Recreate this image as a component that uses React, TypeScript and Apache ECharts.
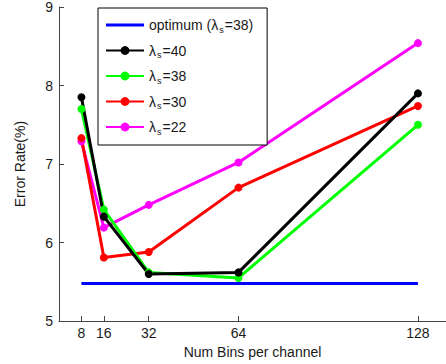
import React, { useEffect, useRef } from "react";
import * as echarts from "echarts";

const bins = [8, 16, 32, 64, 128];
const optimumBins = [8, 128];
const optimumErr = [5.48, 5.48];
const err40 = [7.85, 6.33, 5.6, 5.62, 7.9];
const err38 = [7.7, 6.42, 5.62, 5.55, 7.5];
const err30 = [7.33, 5.81, 5.88, 6.7, 7.74];
const err22 = [7.29, 6.19, 6.48, 7.02, 8.54];
const xTickValues = [8, 16, 32, 64, 128];

const NAME_OPT = "optimum (λs=38)";
const NAME_40 = "λs=40";
const NAME_38 = "λs=38";
const NAME_30 = "λs=30";
const NAME_22 = "λs=22";

const FONT = "'Liberation Sans', Arial, Helvetica, sans-serif";
const TEXT = "#1a1a1a";
const AXIS = "#444444";
const LINE_ICON = "path://M0,0L0.01,0L0.01,0.01Z M0,4L38,4L38,7L0,7Z M37.99,10.99L38,10.99L38,11Z";

function pairs(xs: number[], ys: number[]) {
  return xs.map((x, i) => [x, ys[i]]);
}

function lineSeries(name: string, xs: number[], ys: number[], color: string, withSymbol: boolean) {
  return {
    type: "line",
    name,
    data: pairs(xs, ys),
    symbol: withSymbol ? "circle" : "none",
    symbolSize: 8,
    showSymbol: withSymbol,
    lineStyle: { color, width: 3 },
    itemStyle: { color },
    emphasis: { disabled: true },
  };
}

export default function App() {
  const ref = useRef<HTMLDivElement>(null);
  useEffect(() => {
    const chart = echarts.init(ref.current!, null, { renderer: "svg" });
    chart.setOption({
      animation: false,
      backgroundColor: "#ffffff",
      textStyle: { fontFamily: FONT },
      grid: { left: 59, right: 0, top: 6, bottom: 42, containLabel: false },
      xAxis: {
        type: "value",
        min: 0,
        max: 138,
        name: "Num Bins per channel",
        nameLocation: "middle",
        nameGap: 18,
        nameTextStyle: { fontSize: 14, color: TEXT, fontFamily: FONT },
        axisLine: { show: true, lineStyle: { color: AXIS, width: 1 } },
        axisTick: { show: true, inside: true, length: 5, customValues: xTickValues, lineStyle: { color: AXIS } },
        axisLabel: { customValues: xTickValues, fontSize: 14, color: TEXT, margin: 5, fontFamily: FONT },
        splitLine: { show: false },
      },
      yAxis: {
        type: "value",
        min: 5,
        max: 9,
        interval: 1,
        name: "Error Rate(%)",
        nameLocation: "middle",
        nameGap: 32,
        nameTextStyle: { fontSize: 14, color: TEXT, fontFamily: FONT },
        axisLine: { show: true, lineStyle: { color: AXIS, width: 1 } },
        axisTick: { show: true, inside: true, length: 5, lineStyle: { color: AXIS } },
        axisLabel: { fontSize: 14, color: TEXT, margin: 6, fontFamily: FONT },
        splitLine: { show: false },
      },
      legend: {
        orient: "vertical",
        left: 98,
        top: 8,
        padding: [10, 14, 9, 7],
        itemGap: 9.5,
        itemWidth: 38,
        itemHeight: 11,
        selectedMode: false,
        borderColor: "#000000",
        borderWidth: 1,
        backgroundColor: "#ffffff",
        data: [
          { name: NAME_OPT, icon: LINE_ICON, itemStyle: { color: "#0000ff", borderWidth: 0 } },
          NAME_40,
          NAME_38,
          NAME_30,
          NAME_22,
        ],
        formatter: (name: string) => name.replace("λs", "λ{s|s}"),
        textStyle: {
          fontSize: 14,
          color: TEXT,
          fontFamily: FONT,
          rich: {
            s: { fontSize: 9, color: TEXT, fontFamily: FONT, padding: [9, 1, 0, 1] },
          },
        },
      },
      series: [
        lineSeries(NAME_OPT, optimumBins, optimumErr, "#0000ff", false),
        lineSeries(NAME_22, bins, err22, "#ff00ff", true),
        lineSeries(NAME_30, bins, err30, "#ff0000", true),
        lineSeries(NAME_38, bins, err38, "#00ff00", true),
        lineSeries(NAME_40, bins, err40, "#000000", true),
      ],
    });
    return () => chart.dispose();
  }, []);
  return (
    <div
      ref={ref}
      style={{ position: "fixed", left: 0, top: 0, width: 446, height: 364, background: "#ffffff" }}
    />
  );
}
